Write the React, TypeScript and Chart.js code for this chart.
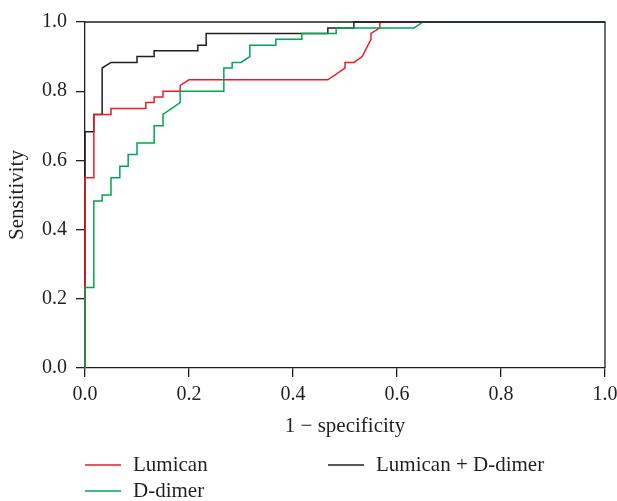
import React, { useEffect, useRef } from 'react';
import { Chart, registerables } from 'chart.js';

Chart.register(...registerables);

// ROC curve points: false positive rate (1 - specificity) and sensitivity
const lumicanFpr = [0, 0, 0.017, 0.017, 0.05, 0.05, 0.117, 0.117, 0.133, 0.133, 0.15, 0.15, 0.183, 0.183, 0.2, 0.467, 0.5, 0.5, 0.517, 0.533, 0.55, 0.55, 0.567, 0.567, 1];
const lumicanTpr = [0, 0.55, 0.55, 0.733, 0.733, 0.75, 0.75, 0.767, 0.767, 0.783, 0.783, 0.8, 0.8, 0.817, 0.833, 0.833, 0.867, 0.883, 0.883, 0.9, 0.95, 0.967, 0.983, 1, 1];

const ddimerFpr = [0, 0, 0.017, 0.017, 0.033, 0.033, 0.05, 0.05, 0.067, 0.067, 0.083, 0.083, 0.1, 0.1, 0.133, 0.133, 0.15, 0.15, 0.183, 0.183, 0.267, 0.267, 0.283, 0.283, 0.3, 0.317, 0.317, 0.367, 0.367, 0.417, 0.417, 0.483, 0.483, 0.633, 0.65, 1];
const ddimerTpr = [0, 0.233, 0.233, 0.483, 0.483, 0.5, 0.5, 0.55, 0.55, 0.583, 0.583, 0.617, 0.617, 0.65, 0.65, 0.7, 0.7, 0.733, 0.767, 0.8, 0.8, 0.867, 0.867, 0.883, 0.883, 0.9, 0.933, 0.933, 0.95, 0.95, 0.967, 0.967, 0.983, 0.983, 1, 1];

const comboFpr = [0, 0, 0.017, 0.017, 0.033, 0.033, 0.05, 0.1, 0.1, 0.133, 0.133, 0.217, 0.217, 0.233, 0.233, 0.467, 0.467, 0.517, 0.517, 1];
const comboTpr = [0, 0.683, 0.683, 0.733, 0.733, 0.867, 0.883, 0.883, 0.9, 0.9, 0.917, 0.917, 0.933, 0.933, 0.967, 0.967, 0.983, 0.983, 1, 1];

const seriesNames = ['Lumican', 'D-dimer', 'Lumican + D-dimer'];
const seriesColors = ['#ed1c24', '#00a651', '#231f20'];

const axisColor = '#231f20';
const fontFamily = '"Liberation Serif", "DejaVu Serif", serif';
const tickSize = 20;
const textSize = 21;

const toPoints = (xs: number[], ys: number[]) => xs.map((x, i) => ({ x, y: ys[i] }));

const framePlugin = {
  id: 'frameAndLegend',
  afterDraw(chart: any) {
    const { ctx, chartArea } = chart;
    ctx.save();
    ctx.strokeStyle = axisColor;
    ctx.lineWidth = 1.3;
    ctx.beginPath();
    ctx.moveTo(chartArea.left, chartArea.top);
    ctx.lineTo(chartArea.right, chartArea.top);
    ctx.lineTo(chartArea.right, chartArea.bottom);
    ctx.stroke();

    // legend: two columns
    const legendItems = [
      { name: seriesNames[0], color: seriesColors[0], col: 0, row: 0 },
      { name: seriesNames[2], color: seriesColors[2], col: 1, row: 0 },
      { name: seriesNames[1], color: seriesColors[1], col: 0, row: 1 },
    ];
    ctx.font = `${textSize}px ${fontFamily}`;
    ctx.textBaseline = 'middle';
    ctx.textAlign = 'left';
    for (const it of legendItems) {
      const x0 = chartArea.left + it.col * 243;
      const y0 = chartArea.bottom + 97 + it.row * 26;
      ctx.strokeStyle = it.color;
      ctx.lineWidth = 1.5;
      ctx.beginPath();
      ctx.moveTo(x0, y0);
      ctx.lineTo(x0 + 36, y0);
      ctx.stroke();
      ctx.fillStyle = axisColor;
      ctx.fillText(it.name, x0 + 48, y0);
    }
    ctx.restore();
  },
};

export default function App() {
  const ref = useRef<HTMLCanvasElement>(null);
  useEffect(() => {
    if (!ref.current) return;
    const mk = (idx: number, xs: number[], ys: number[]) => ({
      label: seriesNames[idx],
      data: toPoints(xs, ys),
      borderColor: seriesColors[idx],
      backgroundColor: seriesColors[idx],
      borderWidth: 1.5,
      showLine: true,
      pointRadius: 0,
      tension: 0,
      clip: 4,
    });
    const tickFont = { family: fontFamily, size: tickSize };
    const titleFont = { family: fontFamily, size: textSize };
    const chart = new Chart(ref.current, {
      type: 'scatter',
      data: {
        datasets: [
          mk(1, ddimerFpr, ddimerTpr),
          mk(0, lumicanFpr, lumicanTpr),
          mk(2, comboFpr, comboTpr),
        ],
      },
      options: {
        animation: false,
        responsive: false,
        layout: { padding: { left: 0, top: 22, right: 12, bottom: 62 } },
        plugins: { legend: { display: false }, tooltip: { enabled: false } },
        scales: {
          x: {
            type: 'linear',
            min: 0,
            max: 1,
            ticks: {
              stepSize: 0.2,
              callback: (v: any) => Number(v).toFixed(1),
              font: tickFont,
              color: axisColor,
              padding: 6,
              maxRotation: 0,
            },
            grid: { drawOnChartArea: false, drawTicks: true, tickLength: 9, color: axisColor, lineWidth: 1.3 },
            border: { display: true, color: axisColor, width: 1.3 },
            title: { display: true, text: '1 − specificity', font: titleFont, color: axisColor, padding: 0 },
            afterFit: (s: any) => { s.height = 71; s.paddingLeft = 0; s.paddingRight = 0; },
          },
          y: {
            type: 'linear',
            min: 0,
            max: 1,
            ticks: {
              stepSize: 0.2,
              callback: (v: any) => Number(v).toFixed(1),
              font: tickFont,
              color: axisColor,
              padding: 9,
            },
            grid: { drawOnChartArea: false, drawTicks: true, tickLength: 9, color: axisColor, lineWidth: 1.3 },
            border: { display: true, color: axisColor, width: 1.3 },
            title: { display: true, text: 'Sensitivity', font: titleFont, color: axisColor, padding: { top: 5, bottom: 0 } },
            afterFit: (s: any) => { s.width = 85; s.paddingTop = 0; s.paddingBottom = 0; },
          },
        },
      },
      plugins: [framePlugin],
    } as any);
    return () => chart.destroy();
  }, []);
  return (
    <div style={{ position: 'fixed', left: 0, top: 0, width: 617, height: 501, background: '#fff' }}>
      <canvas ref={ref} width={617} height={501} style={{ display: 'block' }} />
    </div>
  );
}
